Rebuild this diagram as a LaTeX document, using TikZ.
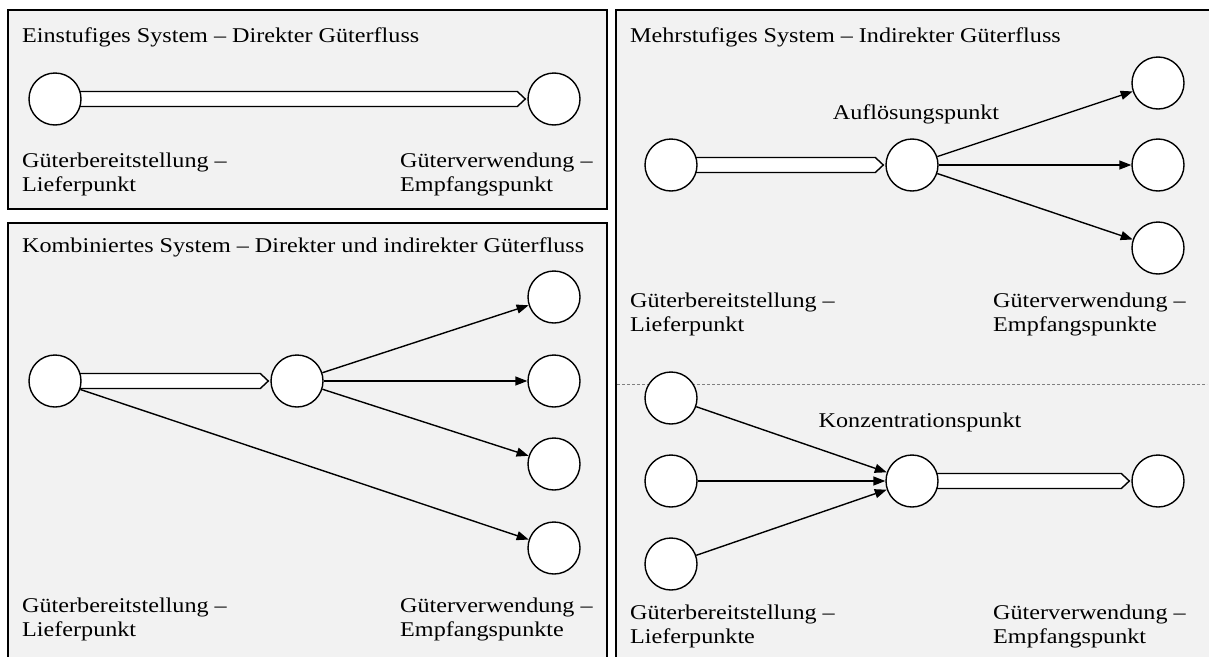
\documentclass[tikz,border=0pt]{standalone}
\usepackage{fontspec}
\setmainfont{Liberation Serif}[FakeStretch=1.15]
\usetikzlibrary{arrows.meta,calc}
\definecolor{panelgray}{HTML}{F2F2F2}
\definecolor{sepgray}{HTML}{808080}
\pgfdeclarelayer{panels}
\pgfdeclarelayer{pipes}
\pgfsetlayers{panels,pipes,main}
\tikzset{
  stn/.style={circle,draw,fill=white,line width=1.4pt,minimum size=52pt,inner sep=0pt},
  panel/.style={draw,fill=panelgray,line width=1.4pt},
  flow/.style={line width=1.4pt,-{Triangle[length=12pt,width=9pt]}},
  pipe/.style={draw,fill=white,line width=1.4pt,line join=miter},
  lbl/.style={anchor=base west,inner sep=0pt,font=\fontsize{21}{25}\selectfont},
  clbl/.style={anchor=base,inner sep=0pt,font=\fontsize{21}{25}\selectfont},
}
% wide pipe with a pointed head, from station #1 to station #2
\newcommand\pipeflow[2]{%
  \begin{pgfonlayer}{pipes}
    \draw[pipe] let \p1=(#1.center), \p2=(#2.west) in
      (\x1,\y1+7.5pt) -- (\x2-10pt,\y1+7.5pt) -- (\x2-2pt,\y1)
      -- (\x2-10pt,\y1-7.5pt) -- (\x1,\y1-7.5pt);
  \end{pgfonlayer}}
\begin{document}
\begin{tikzpicture}[x=1pt,y=-1pt]
\useasboundingbox (0,0) rectangle (1209,656);
\clip (0,0) rectangle (1209,656);

\begin{pgfonlayer}{panels}
  \draw[panel] (8,10) rectangle (607,209);
  \draw[panel] (8,223) rectangle (607,680);
  \draw[panel] (616,10) rectangle (1230,680);
  \draw[sepgray,line width=0.8pt,dash pattern=on 3pt off 2pt] (617,384) -- (1207,384);
\end{pgfonlayer}

% ---- single-stage system
\node[lbl] (t1) at (22,42) {Einstufiges System – Direkter Güterfluss};
\node[stn] (s1a) at (55,99) {};
\node[stn] (s1b) at (554,99) {};
\pipeflow{s1a}{s1b}
\node[lbl] (s1l1) at (22,167) {Güterbereitstellung –};
\node[lbl] (s1l2) at (22,191) {Lieferpunkt};
\node[lbl] (s1r1) at (400,167) {Güterverwendung –};
\node[lbl] (s1r2) at (400,191) {Empfangspunkt};

% ---- combined system
\node[lbl] (t2) at (22,252) {Kombiniertes System – Direkter und indirekter Güterfluss};
\node[stn] (k0) at (55,381) {};
\node[stn] (km) at (297,381) {};
\node[stn] (k1) at (554,297) {};
\node[stn] (k2) at (554,381) {};
\node[stn] (k3) at (554,464) {};
\node[stn] (k4) at (554,548) {};
\pipeflow{k0}{km}
\draw[flow] (km) -- (k1);
\draw[flow] (km) -- (k2);
\draw[flow] (km) -- (k3);
\draw[flow] (k0) -- (k4);
\node[lbl] (k0l1) at (22,612) {Güterbereitstellung –};
\node[lbl] (k0l2) at (22,636) {Lieferpunkt};
\node[lbl] (k4l1) at (400,612) {Güterverwendung –};
\node[lbl] (k4l2) at (400,636) {Empfangspunkte};

% ---- multi-stage system: break-bulk point
\node[lbl] (t3) at (630,42) {Mehrstufiges System – Indirekter Güterfluss};
\node[stn] (a0) at (671,165) {};
\node[stn] (am) at (912,165) {};
\node[stn] (a1) at (1158,83) {};
\node[stn] (a2) at (1158,165) {};
\node[stn] (a3) at (1158,248) {};
\pipeflow{a0}{am}
\draw[flow] (am) -- (a1);
\draw[flow] (am) -- (a2);
\draw[flow] (am) -- (a3);
\node[clbl] (aml) at (916,119) {Auflösungspunkt};
\node[lbl] (a0l1) at (630,307) {Güterbereitstellung –};
\node[lbl] (a0l2) at (630,331) {Lieferpunkt};
\node[lbl] (a3l1) at (993,307) {Güterverwendung –};
\node[lbl] (a3l2) at (993,331) {Empfangspunkte};

% ---- multi-stage system: consolidation point
\node[stn] (c1) at (671,398) {};
\node[stn] (c2) at (671,481) {};
\node[stn] (c3) at (671,564) {};
\node[stn] (cm) at (912,481) {};
\node[stn] (c0) at (1158,481) {};
\draw[flow] (c1) -- (cm);
\draw[flow] (c2) -- (cm);
\draw[flow] (c3) -- (cm);
\pipeflow{cm}{c0}
\node[clbl] (cml) at (920,427) {Konzentrationspunkt};
\node[lbl] (c1l1) at (630,619) {Güterbereitstellung –};
\node[lbl] (c1l2) at (630,643) {Lieferpunkte};
\node[lbl] (c0l1) at (993,619) {Güterverwendung –};
\node[lbl] (c0l2) at (993,643) {Empfangspunkt};
\end{tikzpicture}
\end{document}
